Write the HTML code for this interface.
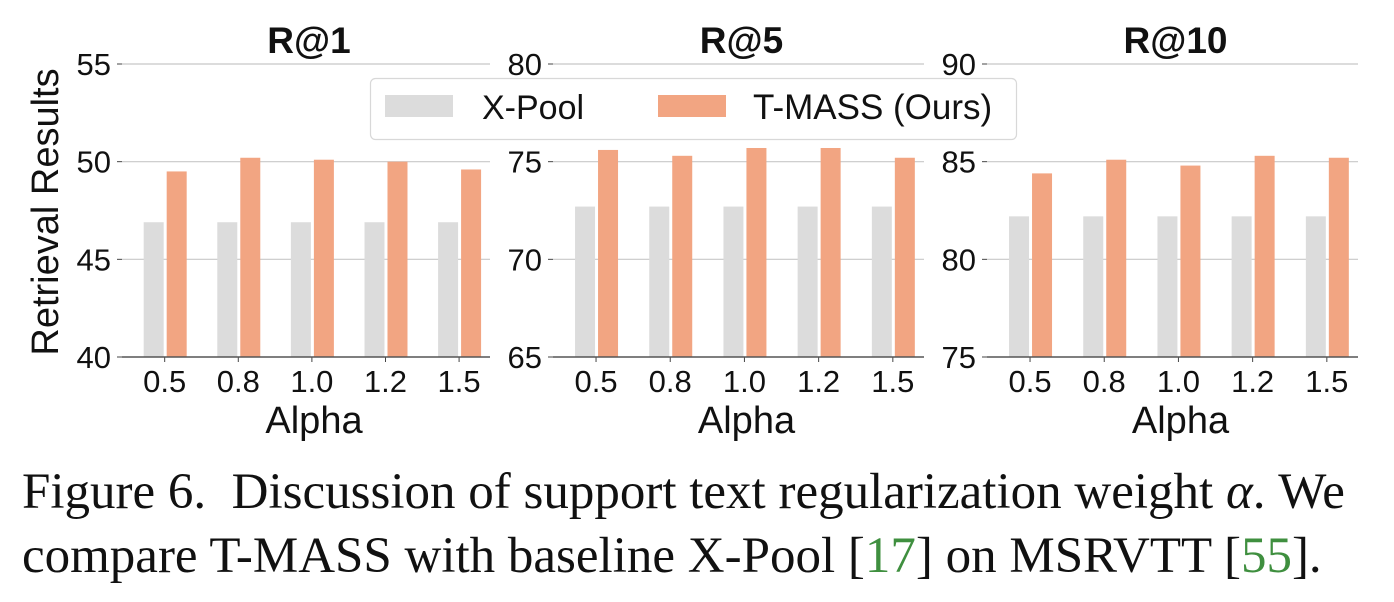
<!DOCTYPE html>
<html><head><meta charset="utf-8"><style>
body{margin:0;background:#fff;width:1394px;height:602px;overflow:hidden;position:relative}
svg{font-family:"Liberation Sans",sans-serif;position:absolute;left:0;top:0}
.cap{position:absolute;left:22px;font-family:"Liberation Serif",serif;font-size:51px;line-height:51px;color:#111;white-space:nowrap}
.cap a{color:#3f8f3f;text-decoration:none}
</style></head><body>
<svg id="chart" width="1394" height="460"></svg>
<div class="cap" style="top:467px">Figure 6.&nbsp; Discussion of support text regularization weight <i>α</i>. We</div>
<div class="cap" style="top:531px">compare T-MASS with baseline X-Pool [<a>17</a>] on MSRVTT [<a>55</a>].</div>
<script>
const categories=["0.5","0.8","1.0","1.2","1.5"];
const titles=["R@1","R@5","R@10"];
const xpool1=[46.9,46.9,46.9,46.9,46.9];
const tmass1=[49.5,50.2,50.1,50.0,49.6];
const xpool5=[72.7,72.7,72.7,72.7,72.7];
const tmass5=[75.6,75.3,75.7,75.7,75.2];
const xpool10=[82.2,82.2,82.2,82.2,82.2];
const tmass10=[84.4,85.1,84.8,85.3,85.2];
const yTicks1=[40,45,50,55];
const yTicks5=[65,70,75,80];
const yTicks10=[75,80,85,90];
const NS="http://www.w3.org/2000/svg";
const svg=document.getElementById('chart');
function mk(t,a,p){const e=document.createElementNS(NS,t);for(const k in a)e.setAttribute(k,a[k]);(p||svg).appendChild(e);return e;}
const panels=[{x0:122,x1:490,xp:xpool1,tm:tmass1,yt:yTicks1},{x0:553,x1:924,xp:xpool5,tm:tmass5,yt:yTicks5},{x0:987,x1:1358,xp:xpool10,tm:tmass10,yt:yTicks10}];
const yTop=64,yBot=357;
panels.forEach((p,pi)=>{
  const g=mk('g',{});
  
  
  const lo=p.yt[0],hi=p.yt[p.yt.length-1];
  const y=v=>yBot-(v-lo)/(hi-lo)*(yBot-yTop);
  const step=(p.x1-p.x0)/5;
  const x=i=>p.x0+step*(i+0.58);
  p.yt.forEach(v=>{
    if(v!==lo){const gl=mk('line',{x1:p.x0,x2:p.x1,y1:y(v),y2:y(v),stroke:'#c8c8c8','stroke-width':1.2},g);
    }
    mk('line',{x1:p.x0-5,x2:p.x0,y1:y(v),y2:y(v),stroke:'#444','stroke-width':1},g);
    const t=mk('text',{x:p.x0-11,y:y(v)+11,'text-anchor':'end','font-size':31,fill:'#111'},g);t.textContent=v;
    
  });
  categories.forEach((c,i)=>{
    const b1=mk('rect',{x:x(i)-21,y:y(p.xp[i]),width:20,height:yBot-y(p.xp[i]),fill:'#dcdcdc'},g);
    
    const b2=mk('rect',{x:x(i)+2,y:y(p.tm[i]),width:20,height:yBot-y(p.tm[i]),fill:'#f2a582'},g);
    
    mk('line',{x1:x(i),x2:x(i),y1:yBot,y2:yBot+5,stroke:'#444'},g);
    const t=mk('text',{x:x(i),y:yBot+35,'text-anchor':'middle','font-size':31,fill:'#111'},g);t.textContent=c;
    
  });
  const ax=mk('line',{x1:p.x0,x2:p.x1,y1:yBot,y2:yBot,stroke:'#555','stroke-width':1.5},g);
  
  const xt=mk('text',{x:(p.x0+p.x1)/2+8,y:433,'text-anchor':'middle','font-size':38,fill:'#111'},g);xt.textContent='Alpha';
  
  const tt=mk('text',{x:(p.x0+p.x1)/2+3,y:53,'text-anchor':'middle','font-size':37,'font-weight':'bold',fill:'#111'},g);tt.textContent=titles[pi];
  
});
const yl=mk('text',{x:0,y:0,transform:'translate(58,212) rotate(-90)','text-anchor':'middle','font-size':38,fill:'#111'});yl.textContent='Retrieval Results';

const lg=mk('g',{});

mk('rect',{x:370.5,y:78.5,width:646,height:61,rx:5,fill:'#fff','fill-opacity':0.85,stroke:'#d8d8d8','stroke-width':1.2},lg);
const l1=mk('rect',{x:385,y:95,width:68,height:22,fill:'#dcdcdc'},lg);

let t=mk('text',{x:482,y:119,'font-size':34,fill:'#111'},lg);t.textContent='X-Pool';
const l2=mk('rect',{x:658,y:95,width:68,height:22,fill:'#f2a582'},lg);

t=mk('text',{x:753,y:119,'font-size':35,fill:'#111'},lg);t.textContent='T-MASS (Ours)';
</script>
</body></html>
